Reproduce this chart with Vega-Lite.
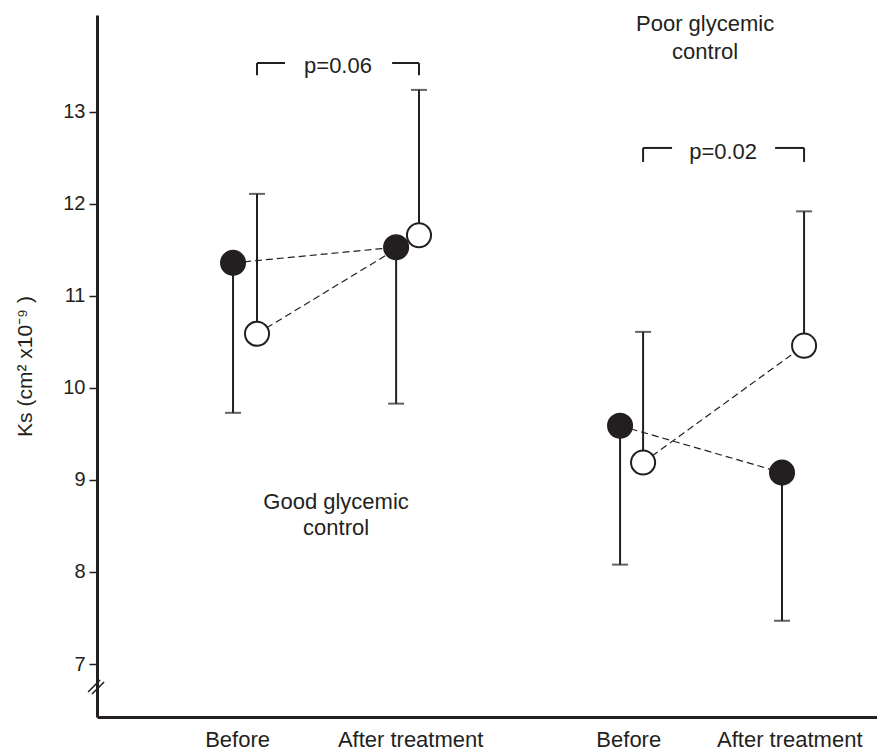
{
  "$schema": "https://vega.github.io/schema/vega-lite/v6.json",
  "autosize": "none",
  "width": 780,
  "height": 702,
  "padding": {"left": 97, "top": 15, "right": 0, "bottom": 33},
  "background": "white",
  "config": {
    "view": {"stroke": null},
    "font": "Liberation Sans",
    "axis": {"grid": false}
  },
  "datasets": {
    "pts": [
      {"group": "Good", "time": "Before", "kind": "filled", "series": "Good-filled", "x": 0.975, "mean": 11.36, "err": 9.73},
      {"group": "Good", "time": "Before", "kind": "open", "series": "Good-open", "x": 1.124, "mean": 10.59, "err": 12.11},
      {"group": "Good", "time": "After treatment", "kind": "filled", "series": "Good-filled", "x": 1.988, "mean": 11.53, "err": 9.83},
      {"group": "Good", "time": "After treatment", "kind": "open", "series": "Good-open", "x": 2.13, "mean": 11.66, "err": 13.24},
      {"group": "Poor", "time": "Before", "kind": "filled", "series": "Poor-filled", "x": 3.379, "mean": 9.59, "err": 8.08},
      {"group": "Poor", "time": "Before", "kind": "open", "series": "Poor-open", "x": 3.522, "mean": 9.19, "err": 10.61},
      {"group": "Poor", "time": "After treatment", "kind": "filled", "series": "Poor-filled", "x": 4.385, "mean": 9.08, "err": 7.47},
      {"group": "Poor", "time": "After treatment", "kind": "open", "series": "Poor-open", "x": 4.522, "mean": 10.46, "err": 11.92}
    ],
    "brackets": [
      {"x": 1.124, "x2": 1.124, "y": 13.40, "y2": 13.532},
      {"x": 1.124, "x2": 1.298, "y": 13.532, "y2": 13.532},
      {"x": 1.963, "x2": 2.13, "y": 13.532, "y2": 13.532},
      {"x": 2.13, "x2": 2.13, "y": 13.40, "y2": 13.532},
      {"x": 3.522, "x2": 3.522, "y": 12.457, "y2": 12.609},
      {"x": 3.522, "x2": 3.702, "y": 12.609, "y2": 12.609},
      {"x": 4.342, "x2": 4.522, "y": 12.609, "y2": 12.609},
      {"x": 4.522, "x2": 4.522, "y": 12.457, "y2": 12.609}
    ],
    "breaks": [
      {"x": 0.075, "x2": 0.149, "y": 6.696, "y2": 6.826},
      {"x": 0.099, "x2": 0.174, "y": 6.674, "y2": 6.804}
    ],
    "notes": [
      {"x": 1.627, "y": 13.50, "text": "p=0.06"},
      {"x": 4.019, "y": 12.565, "text": "p=0.02"},
      {"x": 1.615, "y": 8.761, "text": "Good glycemic"},
      {"x": 1.615, "y": 8.478, "text": "control"},
      {"x": 3.907, "y": 13.957, "text": "Poor glycemic"},
      {"x": 3.907, "y": 13.652, "text": "control"}
    ]
  },
  "layer": [
    {
      "data": {"name": "pts"},
      "mark": {"type": "line", "strokeDash": [7, 4], "strokeWidth": 1.2, "color": "#231f20"},
      "encoding": {
        "x": {
          "field": "x", "type": "quantitative",
          "scale": {"domain": [0.13, 4.975], "nice": false, "zero": false},
          "axis": {
            "title": null,
            "values": [1, 2.075, 3.43, 4.43],
            "labelExpr": "(datum.value < 1.5 || (datum.value > 3 && datum.value < 4)) ? 'Before' : 'After treatment'",
            "ticks": false,
            "labelPadding": 12,
            "labelFontSize": 22,
            "labelColor": "#231f20",
            "domainColor": "#231f20",
            "domainWidth": 3,
            "labelFont": "Liberation Sans",
            "labelOverlap": false
          }
        },
        "y": {
          "field": "mean", "type": "quantitative",
          "scale": {"domain": [6.424, 14.054], "nice": false, "zero": false},
          "axis": {
            "title": "Ks  (cm² x10⁻⁹ )",
            "values": [7, 8, 9, 10, 11, 12, 13],
            "format": "d",
            "tickSize": 8,
            "tickColor": "#231f20",
            "tickWidth": 1.5,
            "labelPadding": 4,
            "labelFontSize": 20,
            "labelColor": "#231f20",
            "labelFont": "Liberation Sans",
            "domainColor": "#231f20",
            "domainWidth": 3,
            "titleFontSize": 21,
            "titleFontWeight": "normal",
            "titleColor": "#231f20",
            "titlePadding": 27,
            "titleFont": "Liberation Sans"
          }
        },
        "detail": {"field": "series"},
        "order": {"field": "x"}
      }
    },
    {
      "data": {"name": "pts"},
      "mark": {"type": "rule", "strokeWidth": 2, "color": "#231f20"},
      "encoding": {
        "x": {"field": "x", "type": "quantitative"},
        "y": {"field": "mean", "type": "quantitative"},
        "y2": {"field": "err"}
      }
    },
    {
      "data": {"name": "pts"},
      "mark": {"type": "tick", "orient": "horizontal", "size": 16, "thickness": 2, "color": "#231f20"},
      "encoding": {
        "x": {"field": "x", "type": "quantitative"},
        "y": {"field": "err", "type": "quantitative"}
      }
    },
    {
      "data": {"name": "pts"},
      "mark": {"type": "point", "shape": "circle", "size": 580, "filled": true, "stroke": "#231f20", "strokeWidth": 2, "opacity": 1},
      "encoding": {
        "x": {"field": "x", "type": "quantitative"},
        "y": {"field": "mean", "type": "quantitative"},
        "fill": {"field": "kind", "type": "nominal", "scale": {"domain": ["filled", "open"], "range": ["#231f20", "#ffffff"]}, "legend": null}
      }
    },
    {
      "data": {"name": "brackets"},
      "mark": {"type": "rule", "strokeWidth": 2, "color": "#231f20"},
      "encoding": {
        "x": {"field": "x", "type": "quantitative"},
        "x2": {"field": "x2"},
        "y": {"field": "y", "type": "quantitative"},
        "y2": {"field": "y2"}
      }
    },
    {
      "data": {"name": "breaks"},
      "mark": {"type": "rule", "strokeWidth": 1.6, "color": "#231f20"},
      "encoding": {
        "x": {"field": "x", "type": "quantitative"},
        "x2": {"field": "x2"},
        "y": {"field": "y", "type": "quantitative"},
        "y2": {"field": "y2"}
      }
    },
    {
      "data": {"name": "notes"},
      "mark": {"type": "text", "fontSize": 22, "font": "Liberation Sans", "color": "#231f20", "align": "center", "baseline": "middle"},
      "encoding": {
        "x": {"field": "x", "type": "quantitative"},
        "y": {"field": "y", "type": "quantitative"},
        "text": {"field": "text"}
      }
    }
  ]
}
